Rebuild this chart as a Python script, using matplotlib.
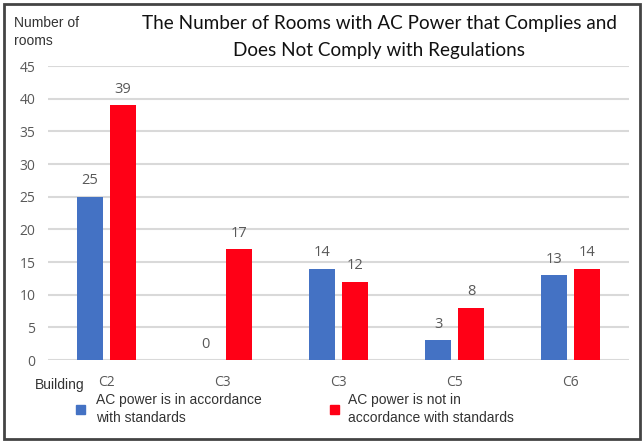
import numpy as np
import matplotlib.pyplot as plt
from matplotlib.patches import Rectangle

buildings = ['C2', 'C3', 'C3', 'C5', 'C6']
comply = [25, 0, 14, 3, 13]
not_comply = [39, 17, 12, 8, 14]
yticks = [0, 5, 10, 15, 20, 25, 30, 35, 40, 45]

blue = '#4472C4'
red = '#FF0016'
gray = '#595959'

fig = plt.figure(figsize=(6.44, 4.43), dpi=100)
ax = fig.add_axes([48/644, 1 - 360/443, 581/644, 294/443])

x = np.arange(len(buildings))
w = 0.225
off = 0.142
b1 = ax.bar(x - off, comply, w, color=blue, zorder=3)
b2 = ax.bar(x + off, not_comply, w, color=red, zorder=3)

for bars, vals in [(b1, comply), (b2, not_comply)]:
    for b, v in zip(bars, vals):
        ax.annotate(str(v), (b.get_x() + b.get_width()/2, v), xytext=(0, 6),
                    textcoords='offset points', ha='center', va='bottom',
                    fontsize=10.5, color=gray, family='Open Sans')

ax.set_xlim(-0.5, len(buildings) - 0.5)
ax.set_ylim(0, 45)
ax.set_yticks(yticks)
ax.yaxis.grid(True, color='#d9d9d9', lw=1.5, zorder=0)
ax.tick_params(axis='y', length=0, pad=9, labelsize=10, labelcolor=gray)
ax.set_xticks(x)
ax.set_xticklabels(buildings, family='Open Sans', fontsize=10, color=gray)
ax.tick_params(axis='x', length=0, pad=11)
for lab in ax.get_yticklabels():
    lab.set_family('Open Sans')
for s in ax.spines.values():
    s.set_visible(False)

fig.text(35/644, 1 - 385/443, 'Building', fontsize=10, color='#333333',
         va='center', ha='left', family='Liberation Sans')

fig.text(14/644, 1 - 32/443, 'Number of\nrooms', fontsize=10, color='#333333',
         va='center', ha='left', family='Liberation Sans', linespacing=1.45)

fig.text(379/644, 1 - 37/443,
         'The Number of Rooms with AC Power that Complies and\nDoes Not Comply with Regulations',
         fontsize=13.6, ha='center', va='center', family='Lato', linespacing=1.65,
         color='#111111')

# legend
fig.patches.append(Rectangle((76/644, 1 - 414/443), 9/644, 9/443,
                             transform=fig.transFigure, color=blue))
fig.text(96/644, 1 - 409/443, 'AC power is in accordance\nwith standards',
         fontsize=10, color='#333333', va='center', ha='left',
         family='Liberation Sans', linespacing=1.35)
fig.patches.append(Rectangle((330/644, 1 - 414/443), 9/644, 9/443,
                             transform=fig.transFigure, color=red))
fig.text(348/644, 1 - 409/443, 'AC power is not in\naccordance with standards',
         fontsize=10, color='#333333', va='center', ha='left',
         family='Liberation Sans', linespacing=1.35)

# border
fig.patches.append(Rectangle((4/644, 4/443), 636/644, 435/443,
                             transform=fig.transFigure, fill=False,
                             edgecolor='#444444', lw=2))

plt.savefig('out.png', dpi=100)
